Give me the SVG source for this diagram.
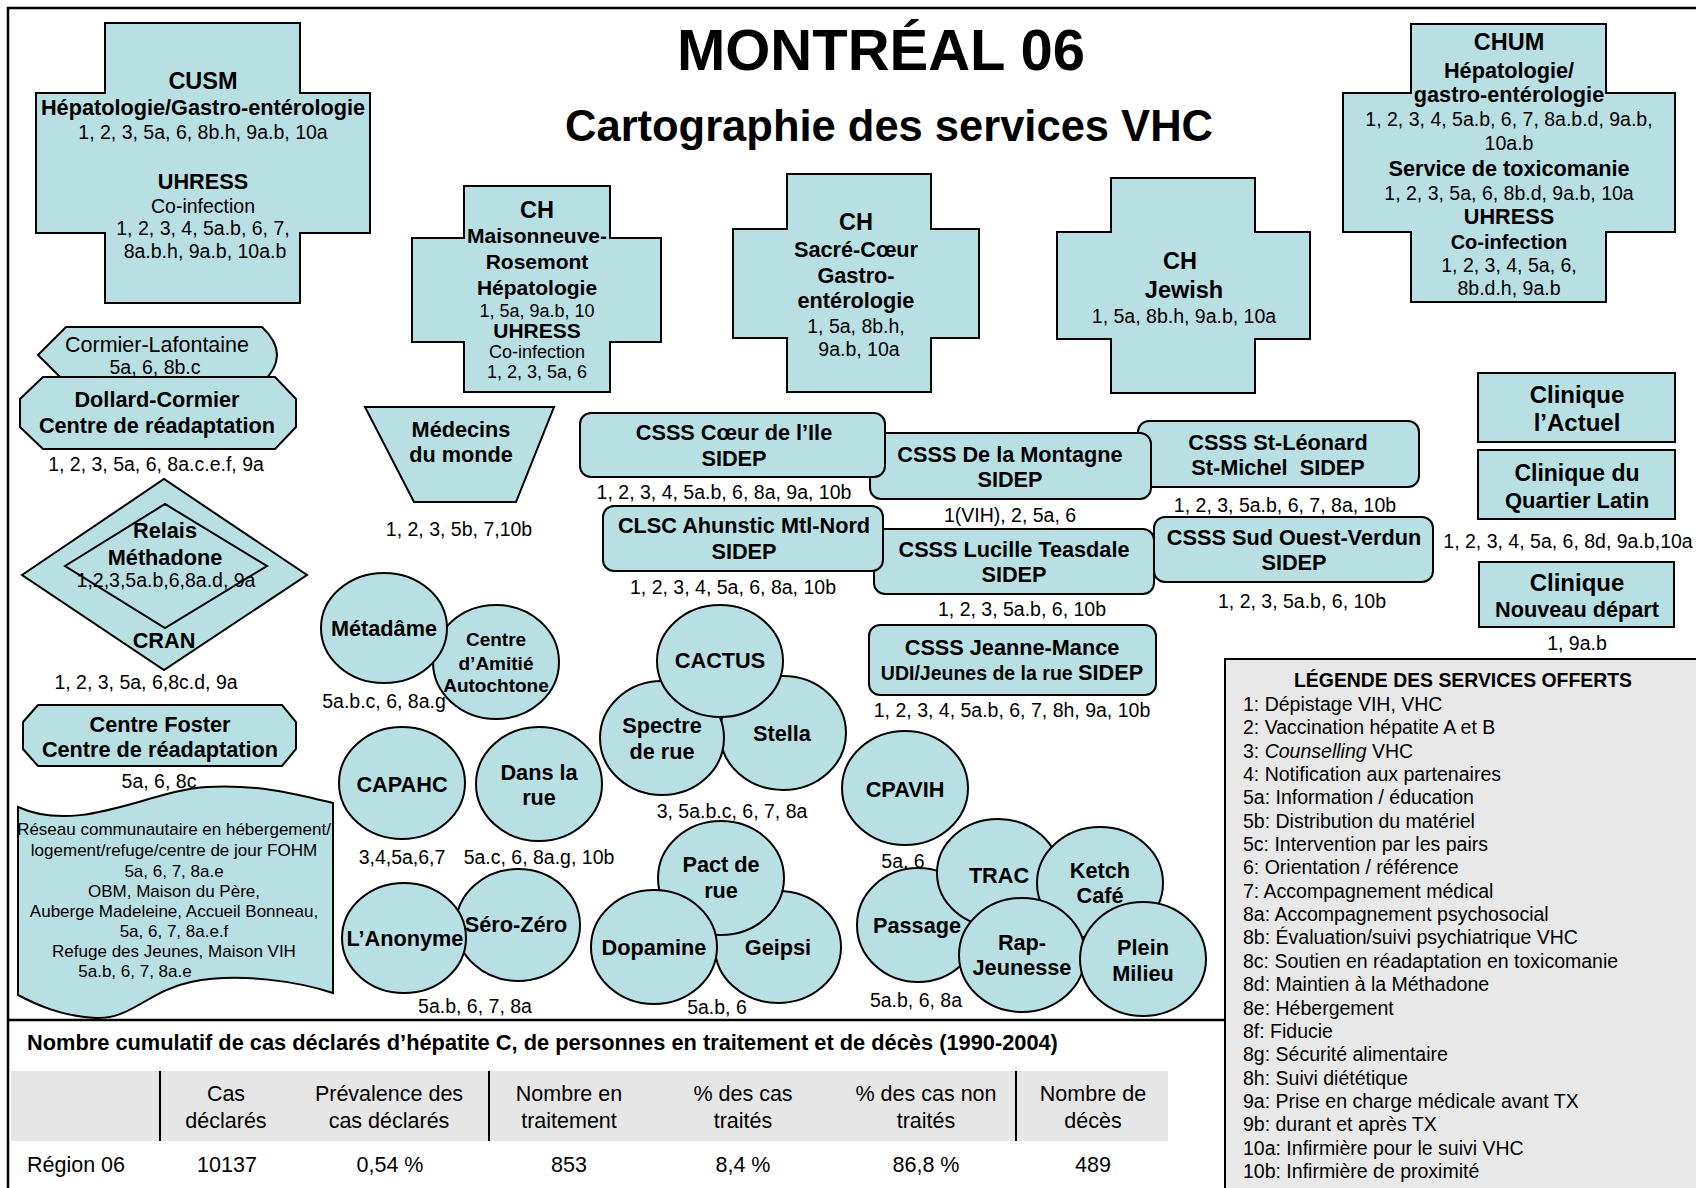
<svg xmlns="http://www.w3.org/2000/svg" width="1696" height="1188" viewBox="0 0 1696 1188">
<style>
text{font-family:"Liberation Sans",Arial,sans-serif;fill:#000}
.n{fill:#b8dfe2;stroke:#000;stroke-width:2}
.b{font-weight:bold;font-size:21.7px;text-anchor:middle}
.h{font-weight:bold;font-size:23.5px;text-anchor:middle}
.r{font-size:19.5px;text-anchor:middle}
.s{font-size:17px;text-anchor:middle}
.lg{font-size:19.5px}
.t{font-size:21.5px;text-anchor:middle}
</style>
<rect x="0" y="0" width="1696" height="1188" fill="#fff"/>
<rect x="8" y="8" width="1700" height="1200" fill="none" stroke="#000" stroke-width="2.5"/>

<g id="title">
<text x="881" y="70" style="font-weight:bold;font-size:58px;text-anchor:middle">MONTRÉAL 06</text>
<text x="889" y="141" style="font-weight:bold;font-size:43.5px;text-anchor:middle">Cartographie des services VHC</text>
</g>

<g id="connectors"></g>

<g id="cusm">
<polygon class="n" points="105,23 300,23 300,93 370,93 370,233 300,233 300,303 105,303 105,233 36,233 36,93 105,93"/>
<text class="h" x="203" y="89">CUSM</text>
<text class="b" x="203" y="115">Hépatologie/Gastro-entérologie</text>
<text class="r" x="203" y="139">1, 2, 3, 5a, 6, 8b.h, 9a.b, 10a</text>
<text class="b" x="203" y="189">UHRESS</text>
<text class="r" x="203" y="213">Co-infection</text>
<text class="r" x="203" y="235">1, 2, 3, 4, 5a.b, 6, 7,</text>
<text class="r" x="205" y="258">8a.b.h, 9a.b, 10a.b</text>
</g>

<g id="ch-maisonneuve">
<polygon class="n" points="464,186 610,186 610,238 661,238 661,342 610,342 610,392 464,392 464,342 412,342 412,238 464,238"/>
<text class="h" x="537" y="218">CH</text>
<text class="b" x="537" y="243" style="font-size:21px">Maisonneuve-</text>
<text class="b" x="537" y="269" style="font-size:21px">Rosemont</text>
<text class="b" x="537" y="295" style="font-size:21px">Hépatologie</text>
<text class="r" x="537" y="317" style="font-size:18px">1, 5a, 9a.b, 10</text>
<text class="b" x="537" y="338" style="font-size:21px">UHRESS</text>
<text class="r" x="537" y="358" style="font-size:18px">Co-infection</text>
<text class="r" x="537" y="378" style="font-size:18px">1, 2, 3, 5a, 6</text>
</g>

<g id="ch-sacre-coeur">
<polygon class="n" points="787,174 931,174 931,229 979,229 979,338 931,338 931,392 787,392 787,338 733,338 733,229 787,229"/>
<text class="h" x="856" y="230">CH</text>
<text class="b" x="856" y="257">Sacré-Cœur</text>
<text class="b" x="856" y="283">Gastro-</text>
<text class="b" x="856" y="308">entérologie</text>
<text class="r" x="856" y="333">1, 5a, 8b.h,</text>
<text class="r" x="859" y="356">9a.b, 10a</text>
</g>

<g id="ch-jewish">
<polygon class="n" points="1111,178 1255,178 1255,232 1310,232 1310,339 1255,339 1255,393 1111,393 1111,339 1057,339 1057,232 1111,232"/>
<text class="h" x="1180" y="269">CH</text>
<text class="h" x="1184" y="298">Jewish</text>
<text class="r" x="1184" y="323">1, 5a, 8b.h, 9a.b, 10a</text>
</g>

<g id="chum">
<polygon class="n" points="1411,24 1606,24 1606,93 1675,93 1675,232 1606,232 1606,302 1411,302 1411,232 1343,232 1343,93 1411,93"/>
<text class="h" x="1509" y="50">CHUM</text>
<text class="b" x="1509" y="78">Hépatologie/</text>
<text class="b" x="1509" y="102">gastro-entérologie</text>
<text class="r" x="1509" y="126">1, 2, 3, 4, 5a.b, 6, 7, 8a.b.d, 9a.b,</text>
<text class="r" x="1509" y="150">10a.b</text>
<text class="b" x="1509" y="176">Service de toxicomanie</text>
<text class="r" x="1509" y="200">1, 2, 3, 5a, 6, 8b.d, 9a.b, 10a</text>
<text class="b" x="1509" y="224">UHRESS</text>
<text class="b" x="1509" y="249" style="font-size:20px">Co-infection</text>
<text class="r" x="1509" y="272">1, 2, 3, 4, 5a, 6,</text>
<text class="r" x="1509" y="295">8b.d.h, 9a.b</text>
</g>

<g id="cormier-lafontaine">
<path class="n" d="M38,355 L66,327 L262,327 Q292,355 262,383 L66,383 Z"/>
<text x="157" y="352" style="font-size:21.5px;text-anchor:middle">Cormier-Lafontaine</text>
<text x="155" y="374" style="font-size:19.5px;text-anchor:middle">5a, 6, 8b.c</text>
</g>

<g id="dollard-cormier">
<polygon class="n" points="43,377 275,377 296,399 296,427 275,449 43,449 20,427 20,399"/>
<text class="b" x="157" y="407">Dollard-Cormier</text>
<text class="b" x="157" y="433">Centre de réadaptation</text>
<text class="r" x="156" y="471">1, 2, 3, 5a, 6, 8a.c.e.f, 9a</text>
</g>

<g id="cran">
<polygon class="n" points="22,575 164,479 307,575 164,670"/>
<polygon class="n" points="65,566 165,504 267,566 165,628"/>
<text class="b" x="165" y="538">Relais</text>
<text class="b" x="165" y="565">Méthadone</text>
<text class="r" x="166" y="587">1,2,3,5a.b,6,8a.d, 9a</text>
<text class="b" x="164" y="648">CRAN</text>
<text class="r" x="146" y="689">1, 2, 3, 5a, 6,8c.d, 9a</text>
</g>

<g id="centre-foster">
<polygon class="n" points="38,705 282,705 296,722 296,749 282,766 38,766 23,749 23,722"/>
<text class="b" x="160" y="732">Centre Foster</text>
<text class="b" x="160" y="757">Centre de réadaptation</text>
<text class="r" x="159" y="788">5a, 6, 8c</text>
</g>

<g id="reseau-fohm">
<path class="n" d="M18,807 C80,835 150,790 207,787 C260,784 300,795 333,803 L333,993 C300,982 240,972 191,982 C150,990 130,1020 96,1018 C60,1016 35,1004 18,995 Z"/>
<text class="s" x="174" y="835">Réseau communautaire en hébergement/</text>
<text class="s" x="174" y="856">logement/refuge/centre de jour FOHM</text>
<text class="s" x="174" y="877">5a, 6, 7, 8a.e</text>
<text class="s" x="174" y="897">OBM, Maison du Père,</text>
<text class="s" x="174" y="917">Auberge Madeleine, Accueil Bonneau,</text>
<text class="s" x="174" y="937">5a, 6, 7, 8a.e.f</text>
<text class="s" x="174" y="957">Refuge des Jeunes, Maison VIH</text>
<text class="s" x="135" y="977">5a.b, 6, 7, 8a.e</text>
</g>

<g id="medecins-du-monde">
<polygon class="n" points="365,407 554,407 516,502 414,502"/>
<text class="b" x="461" y="437">Médecins</text>
<text class="b" x="461" y="462">du monde</text>
<text class="r" x="459" y="536">1, 2, 3, 5b, 7,10b</text>
</g>

<g id="csss-st-leonard">
<rect class="n" x="1138" y="421" width="281" height="66" rx="11"/>
<text class="b" x="1278" y="450">CSSS St-Léonard</text>
<text class="b" x="1278" y="475" xml:space="preserve">St-Michel  SIDEP</text>
<text class="r" x="1285" y="512">1, 2, 3, 5a.b, 6, 7, 8a, 10b</text>
</g>

<g id="csss-montagne">
<rect class="n" x="870" y="433" width="281" height="66" rx="11"/>
<text class="b" x="1010" y="462">CSSS De la Montagne</text>
<text class="b" x="1010" y="487">SIDEP</text>
<text class="r" x="1010" y="522">1(VIH), 2, 5a, 6</text>
</g>

<g id="csss-coeur-ile">
<rect class="n" x="580" y="413" width="305" height="64" rx="11"/>
<text class="b" x="734" y="440">CSSS Cœur de l’Ile</text>
<text class="b" x="734" y="466">SIDEP</text>
<text class="r" x="724" y="499">1, 2, 3, 4, 5a.b, 6, 8a, 9a, 10b</text>
</g>

<g id="csss-sud-ouest">
<rect class="n" x="1154" y="517" width="279" height="65" rx="11"/>
<text class="b" x="1294" y="545">CSSS Sud Ouest-Verdun</text>
<text class="b" x="1294" y="570">SIDEP</text>
<text class="r" x="1302" y="608">1, 2, 3, 5a.b, 6, 10b</text>
</g>

<g id="csss-lucille-teasdale">
<rect class="n" x="874" y="529" width="280" height="65" rx="11"/>
<text class="b" x="1014" y="557">CSSS Lucille Teasdale</text>
<text class="b" x="1014" y="582">SIDEP</text>
<text class="r" x="1022" y="616">1, 2, 3, 5a.b, 6, 10b</text>
</g>

<g id="clsc-ahunstic">
<rect class="n" x="603" y="506" width="280" height="65" rx="11"/>
<text class="b" x="744" y="533">CLSC Ahunstic Mtl-Nord</text>
<text class="b" x="744" y="559">SIDEP</text>
<text class="r" x="733" y="594">1, 2, 3, 4, 5a, 6, 8a, 10b</text>
</g>

<g id="csss-jeanne-mance">
<rect class="n" x="869" y="625" width="287" height="70" rx="11"/>
<text class="b" x="1012" y="655">CSSS Jeanne-Mance</text>
<text class="b" x="1012" y="680"><tspan style="font-size:19.5px">UDI/Jeunes de la rue </tspan>SIDEP</text>
<text class="r" x="1012" y="717">1, 2, 3, 4, 5a.b, 6, 7, 8h, 9a, 10b</text>
</g>

<g id="clinique-actuel">
<rect class="n" x="1478" y="373" width="197" height="69"/>
<text class="b" x="1577" y="403" style="font-size:24px">Clinique</text>
<text class="b" x="1577" y="431" style="font-size:24px">l’Actuel</text>
</g>

<g id="clinique-quartier-latin">
<rect class="n" x="1478" y="450" width="197" height="69"/>
<text class="b" x="1577" y="481" style="font-size:23px">Clinique du</text>
<text class="b" x="1577" y="508" style="font-size:22px">Quartier Latin</text>
<text class="r" x="1568" y="548">1, 2, 3, 4, 5a, 6, 8d, 9a.b,10a</text>
</g>

<g id="clinique-nouveau-depart">
<rect class="n" x="1479" y="562" width="195" height="65"/>
<text class="b" x="1577" y="591" style="font-size:24px">Clinique</text>
<text class="b" x="1577" y="617">Nouveau départ</text>
<text class="r" x="1577" y="650">1, 9a.b</text>
</g>

<g id="centre-amitie-autochtone">
<ellipse class="n" cx="496" cy="662" rx="63" ry="57"/>
<text class="b" x="496" y="646" style="font-size:19px">Centre</text>
<text class="b" x="496" y="670" style="font-size:19px">d’Amitié</text>
<text class="b" x="496" y="692" style="font-size:19px">Autochtone</text>
</g>

<g id="metadame">
<ellipse class="n" cx="384" cy="628" rx="63" ry="55"/>
<text class="b" x="384" y="636">Métadâme</text>
<text class="r" x="384" y="708">5a.b.c, 6, 8a.g</text>
</g>

<g id="capahc">
<ellipse class="n" cx="402" cy="783" rx="63" ry="56"/>
<text class="b" x="402" y="792">CAPAHC</text>
<text class="r" x="402" y="864">3,4,5a,6,7</text>
</g>

<g id="dans-la-rue">
<ellipse class="n" cx="539" cy="784" rx="63" ry="57"/>
<text class="b" x="539" y="780">Dans la</text>
<text class="b" x="539" y="805">rue</text>
<text class="r" x="539" y="864">5a.c, 6, 8a.g, 10b</text>
</g>

<g id="sero-zero">
<ellipse class="n" cx="518" cy="925" rx="62" ry="56"/>
<text class="b" x="516" y="932">Séro-Zéro</text>
</g>

<g id="anonyme">
<ellipse class="n" cx="404" cy="938" rx="62" ry="55"/>
<text class="b" x="405" y="946">L’Anonyme</text>
<text class="r" x="475" y="1013">5a.b, 6, 7, 8a</text>
</g>

<g id="stella">
<ellipse class="n" cx="783" cy="733" rx="63" ry="57"/>
<text class="b" x="782" y="741">Stella</text>
</g>

<g id="spectre-de-rue">
<ellipse class="n" cx="662" cy="738" rx="62" ry="57"/>
<text class="b" x="662" y="733">Spectre</text>
<text class="b" x="662" y="759">de rue</text>
</g>

<g id="cactus">
<ellipse class="n" cx="720" cy="661" rx="63" ry="56"/>
<text class="b" x="720" y="668">CACTUS</text>
<text class="r" x="732" y="818">3, 5a.b.c, 6, 7, 8a</text>
</g>

<g id="geipsi">
<ellipse class="n" cx="778" cy="947" rx="63" ry="56"/>
<text class="b" x="778" y="955">Geipsi</text>
</g>

<g id="pact-de-rue">
<ellipse class="n" cx="721" cy="878" rx="63" ry="57"/>
<text class="b" x="721" y="872">Pact de</text>
<text class="b" x="721" y="898">rue</text>
</g>

<g id="dopamine">
<ellipse class="n" cx="654" cy="947" rx="63" ry="57"/>
<text class="b" x="654" y="955">Dopamine</text>
<text class="r" x="717" y="1014">5a.b, 6</text>
</g>

<g id="cpavih">
<ellipse class="n" cx="905" cy="788" rx="63" ry="57"/>
<text class="b" x="905" y="797">CPAVIH</text>
<text class="r" x="903" y="868">5a, 6</text>
</g>

<g id="passage">
<ellipse class="n" cx="918" cy="925" rx="61" ry="57"/>
<text class="b" x="917" y="933">Passage</text>
<text class="r" x="916" y="1007">5a.b, 6, 8a</text>
</g>

<g id="trac">
<ellipse class="n" cx="998" cy="873" rx="61" ry="54"/>
<text class="b" x="999" y="883">TRAC</text>
</g>

<g id="ketch-cafe">
<ellipse class="n" cx="1100" cy="883" rx="63" ry="56"/>
<text class="b" x="1100" y="878">Ketch</text>
<text class="b" x="1100" y="903">Café</text>
</g>

<g id="rap-jeunesse">
<ellipse class="n" cx="1022" cy="955" rx="63" ry="57"/>
<text class="b" x="1022" y="950">Rap-</text>
<text class="b" x="1022" y="975">Jeunesse</text>
</g>

<g id="plein-milieu">
<ellipse class="n" cx="1143" cy="959" rx="63" ry="57"/>
<text class="b" x="1143" y="955">Plein</text>
<text class="b" x="1143" y="981">Milieu</text>
</g>

<g id="legende">
<rect x="1225" y="659" width="480" height="540" fill="#e8e8e8" stroke="#000" stroke-width="2"/>
<text x="1463" y="687" style="font-weight:bold;font-size:19.4px;text-anchor:middle">LÉGENDE DES SERVICES OFFERTS</text>
<text class="lg" x="1243" y="711">1: Dépistage VIH, VHC</text>
<text class="lg" x="1243" y="734">2: Vaccination hépatite A et B</text>
<text class="lg" x="1243" y="758">3: <tspan font-style="italic">Counselling</tspan> VHC</text>
<text class="lg" x="1243" y="781">4: Notification aux partenaires</text>
<text class="lg" x="1243" y="804">5a: Information / éducation</text>
<text class="lg" x="1243" y="828">5b: Distribution du matériel</text>
<text class="lg" x="1243" y="851">5c: Intervention par les pairs</text>
<text class="lg" x="1243" y="874">6: Orientation / référence</text>
<text class="lg" x="1243" y="898">7: Accompagnement médical</text>
<text class="lg" x="1243" y="921">8a: Accompagnement psychosocial</text>
<text class="lg" x="1243" y="944">8b: Évaluation/suivi psychiatrique VHC</text>
<text class="lg" x="1243" y="968">8c: Soutien en réadaptation en toxicomanie</text>
<text class="lg" x="1243" y="991">8d: Maintien à la Méthadone</text>
<text class="lg" x="1243" y="1015">8e: Hébergement</text>
<text class="lg" x="1243" y="1038">8f: Fiducie</text>
<text class="lg" x="1243" y="1061">8g: Sécurité alimentaire</text>
<text class="lg" x="1243" y="1085">8h: Suivi diététique</text>
<text class="lg" x="1243" y="1108">9a: Prise en charge médicale avant TX</text>
<text class="lg" x="1243" y="1131">9b: durant et après TX</text>
<text class="lg" x="1243" y="1155">10a: Infirmière pour le suivi VHC</text>
<text class="lg" x="1243" y="1178">10b: Infirmière de proximité</text>
</g>

<g id="tableau">
<line x1="8" y1="1020" x2="1225" y2="1020" stroke="#000" stroke-width="2.5"/>
<text x="27" y="1050" style="font-weight:bold;font-size:21.8px">Nombre cumulatif de cas déclarés d’hépatite C, de personnes en traitement et de décès (1990-2004)</text>
<rect x="11" y="1071" width="1157" height="70" fill="#e6e6e6"/>
<g stroke="#000" stroke-width="2">
<line x1="160" y1="1071" x2="160" y2="1141"/>
<line x1="489" y1="1071" x2="489" y2="1141"/>
<line x1="1016" y1="1071" x2="1016" y2="1141"/>
</g>
<text class="t" x="226" y="1101">Cas</text>
<text class="t" x="226" y="1128">déclarés</text>
<text class="t" x="389" y="1101">Prévalence des</text>
<text class="t" x="389" y="1128">cas déclarés</text>
<text class="t" x="569" y="1101">Nombre en</text>
<text class="t" x="569" y="1128">traitement</text>
<text class="t" x="743" y="1101">% des cas</text>
<text class="t" x="743" y="1128">traités</text>
<text class="t" x="926" y="1101">% des cas non</text>
<text class="t" x="926" y="1128">traités</text>
<text class="t" x="1093" y="1101">Nombre de</text>
<text class="t" x="1093" y="1128">décès</text>
<text x="27" y="1172" style="font-size:21.5px">Région 06</text>
<text class="t" x="227" y="1172">10137</text>
<text class="t" x="390" y="1172">0,54 %</text>
<text class="t" x="569" y="1172">853</text>
<text class="t" x="743" y="1172">8,4 %</text>
<text class="t" x="926" y="1172">86,8 %</text>
<text class="t" x="1093" y="1172">489</text>
</g>
</svg>
